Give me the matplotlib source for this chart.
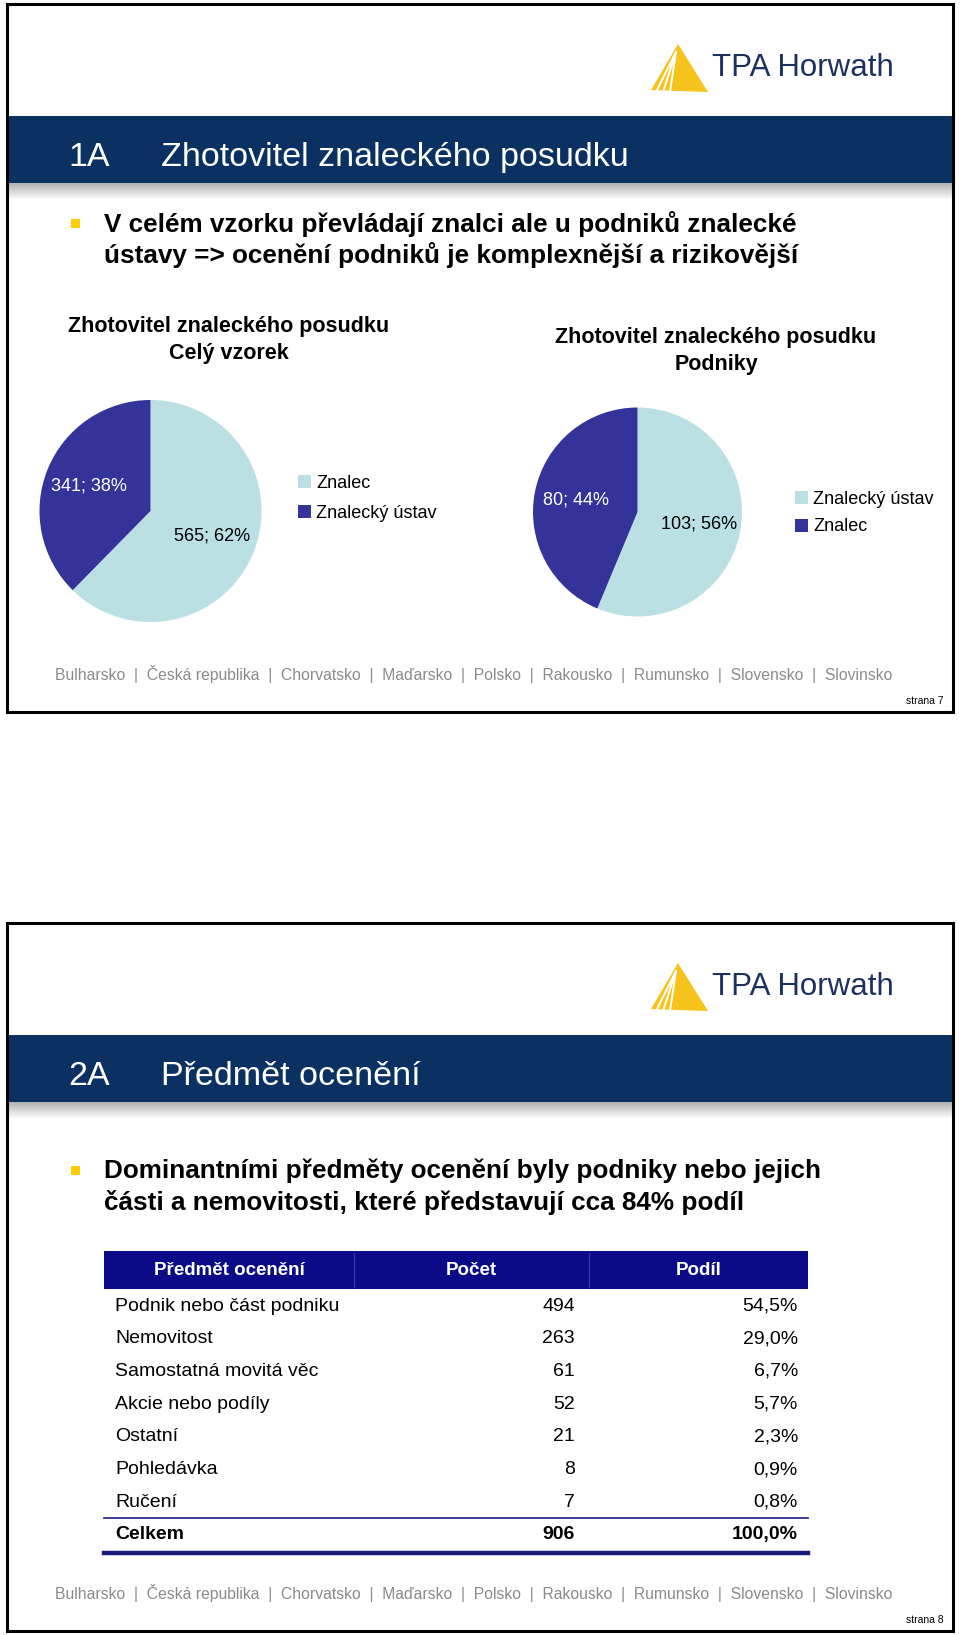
import numpy as np
import matplotlib.pyplot as plt
from matplotlib import font_manager
from matplotlib.patches import Rectangle, Polygon

W, H = 960, 1635

# --- data -----------------------------------------------------------------
pie1_title = ['Zhotovitel znaleckého posudku', 'Celý vzorek']
pie1_labels = ['Znalec', 'Znalecký ústav']
pie1_values = [565, 341]

pie2_title = ['Zhotovitel znaleckého posudku', 'Podniky']
pie2_labels = ['Znalecký ústav', 'Znalec']
pie2_values = [103, 80]

table_header = ['Předmět ocenění', 'Počet', 'Podíl']
table_items = ['Podnik nebo část podniku', 'Nemovitost', 'Samostatná movitá věc',
               'Akcie nebo podíly', 'Ostatní', 'Pohledávka', 'Ručení']
table_counts = [494, 263, 61, 52, 21, 8, 7]
table_shares = [54.5, 29.0, 6.7, 5.7, 2.3, 0.9, 0.8]
total_label = 'Celkem'
total_count = 906
total_share = 100.0

countries = ['Bulharsko', 'Česká republika', 'Chorvatsko', 'Maďarsko', 'Polsko',
             'Rakousko', 'Rumunsko', 'Slovensko', 'Slovinsko']

slide1_title = ('1A', 'Zhotovitel znaleckého posudku')
slide1_bullet = ['V celém vzorku převládají znalci ale u podniků znalecké',
                 'ústavy => ocenění podniků je komplexnější a rizikovější']
slide2_title = ('2A', 'Předmět ocenění')
slide2_bullet = ['Dominantními předměty ocenění byly podniky nebo jejich',
                 'části a nemovitosti, které představují cca 84% podíl']

# --- style ----------------------------------------------------------------
BAND = '#0b3162'
NAVY_TAB = '#0b0b88'
PIE_LIGHT = '#bbe0e3'
PIE_DARK = '#333399'
YELLOW = '#ffcc00'
LOGO_NAVY = '#1d3160'
FOOT_GRAY = '#8a8a8a'

plt.rcParams['font.family'] = ['Liberation Sans', 'DejaVu Sans']
names = {f.name for f in font_manager.fontManager.ttflist}
HAS_NARROW = 'Liberation Sans Narrow' in names
NARROW = ['Liberation Sans Narrow', 'Liberation Sans'] if HAS_NARROW else ['Liberation Sans']

fig = plt.figure(figsize=(W / 100, H / 100), dpi=100)
bg = fig.add_axes([0, 0, 1, 1])
bg.set_xlim(0, W)
bg.set_ylim(H, 0)
bg.axis('off')


def draw_logo(top):
    apex = (678, top + 40)
    bg.add_patch(Polygon([apex, (651, top + 86), (708, top + 88)],
                         closed=True, fc='#f6c21c', ec='none'))
    for bx in [656, 663, 670]:
        bg.plot([apex[0] - 2, bx], [apex[1] + 8, top + 88], color='white', lw=1.4)
    bg.text(712, top + 64, 'TPA Horwath', family=NARROW, color=LOGO_NAVY,
            fontsize=26 if HAS_NARROW else 22.5, va='center', ha='left')


def draw_slide(top, title, bullet, bullet_y, page):
    bg.add_patch(Rectangle((7, top), 946, 708, fill=False, ec='black', lw=2.2, zorder=5))
    draw_logo(top)
    bg.add_patch(Rectangle((7, top + 112), 946, 67, fc=BAND, ec='none'))
    # soft shadow under the title band
    grad = np.zeros((20, 1, 4))
    grad[..., :3] = 0.45
    grad[:, 0, 3] = np.linspace(0.55, 0.0, 20)
    bg.imshow(grad, extent=[7, 953, top + 196, top + 179], aspect='auto', zorder=1)
    bg.text(68, top + 153, title[0], color='white', fontsize=24.5, va='center')
    bg.text(161, top + 153, title[1], color='white', fontsize=24.5, va='center')

    bg.add_patch(Rectangle((71, top + bullet_y - 5), 9, 9, fc=YELLOW, ec='none'))
    for i, line in enumerate(bullet):
        bg.text(104, top + bullet_y + i * 31, line, fontsize=18.8, fontweight='bold',
                color='black', va='center')

    foot = '  |  '.join(countries)
    bg.text(474, top + 670, foot, family=NARROW, color=FOOT_GRAY,
            fontsize=12.6 if HAS_NARROW else 11.35, ha='center', va='center')
    bg.text(944, top + 697, 'strana %d' % page, family=NARROW, fontsize=7.5,
            ha='right', va='center')


def draw_pie(cx, cy, r, values, labels, title, title_x, title_y, leg_x, leg_y, leg_sp):
    ax = fig.add_axes([(cx - r) / W, 1 - (cy + r) / H, 2 * r / W, 2 * r / H])
    total = sum(values)
    wedges, _, autotexts = ax.pie(
        values, colors=[PIE_LIGHT, PIE_DARK], startangle=90, counterclock=False,
        autopct=lambda p: '%d; %.0f%%' % (round(p * total / 100), p),
        pctdistance=0.6, radius=1, textprops={'fontsize': 13})
    autotexts[0].set_color('black')
    autotexts[1].set_color('white')
    ax.set_xlim(-1, 1)
    ax.set_ylim(-1, 1)
    ax.legend(wedges, labels, loc='upper left', bbox_to_anchor=(leg_x / W, 1 - leg_y / H),
              bbox_transform=fig.transFigure, frameon=False, fontsize=13,
              handlelength=0.72, handleheight=0.72, handletextpad=0.3,
              labelspacing=leg_sp, borderpad=0, borderaxespad=0)
    for i, line in enumerate(title):
        bg.text(title_x, title_y + i * 27, line, fontsize=15.5, fontweight='bold',
                ha='center', va='center')


# --- slide 1 --------------------------------------------------------------
draw_slide(4, slide1_title, slide1_bullet, 220, 7)
draw_pie(150.5, 511, 111, pie1_values, pie1_labels, pie1_title, 229, 326, 298, 475, 0.7)
draw_pie(637.5, 512, 104.5, pie2_values, pie2_labels, pie2_title, 716, 337, 795, 491, 0.58)

# --- slide 2 --------------------------------------------------------------
draw_slide(923, slide2_title, slide2_bullet, 248, 8)

tab_left, tab_right = 104, 808
col_x = [354, 589]
head_top, head_bot = 1251, 1289
bg.add_patch(Rectangle((tab_left, head_top), tab_right - tab_left, head_bot - head_top,
                       fc=NAVY_TAB, ec='none'))
for x in col_x:
    bg.plot([x, x], [head_top + 2, head_bot - 2], color='#3b3ba8', lw=0.8)
centers = [(tab_left + col_x[0]) / 2, (col_x[0] + col_x[1]) / 2, (col_x[1] + tab_right) / 2]
for cx, name in zip(centers, table_header):
    bg.text(cx, (head_top + head_bot) / 2, name, color='white', fontsize=13.5,
            fontweight='bold', ha='center', va='center')

row0, step = 1306, 32.7


def fmt_share(v):
    return ('%.1f%%' % v).replace('.', ',')


for i, (item, cnt, sh) in enumerate(zip(table_items, table_counts, table_shares)):
    y = row0 + i * step
    bg.text(115, y, item, fontsize=14, va='center')
    bg.text(575, y, str(cnt), fontsize=14, va='center', ha='right')
    bg.text(798, y, fmt_share(sh), fontsize=14, va='center', ha='right')

y_tot = row0 + len(table_items) * step
bg.plot([tab_left, tab_right], [y_tot - 17, y_tot - 17], color='#1a1a7a', lw=1.2)
bg.text(115, y_tot, total_label, fontsize=14, fontweight='bold', va='center')
bg.text(575, y_tot, str(total_count), fontsize=14, fontweight='bold', va='center', ha='right')
bg.text(798, y_tot, fmt_share(total_share), fontsize=14, fontweight='bold',
        va='center', ha='right')
bg.plot([tab_left, tab_right], [y_tot + 18, y_tot + 18], color='#1a1a7a', lw=3.2)

bg.set_xlim(0, W)
bg.set_ylim(H, 0)
fig.savefig('out.png', dpi=100)
